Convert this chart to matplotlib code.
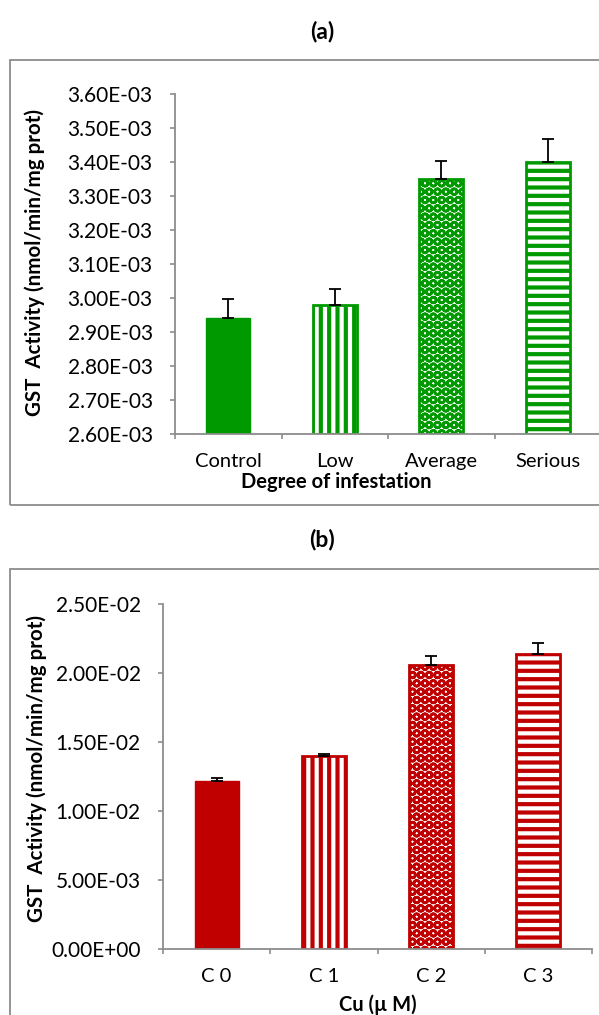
import numpy as np
import matplotlib
matplotlib.use("Agg")
import matplotlib.pyplot as plt
from matplotlib.patches import Rectangle

plt.rcParams['font.family'] = ['Lato', 'DejaVu Sans']
plt.rcParams['hatch.linewidth'] = 3.0

# panel (a): degree of infestation
cats_a = ['Control', 'Low', 'Average', 'Serious']
vals_a = [2.94e-3, 2.98e-3, 3.35e-3, 3.40e-3]
err_a = [0.056e-3, 0.046e-3, 0.053e-3, 0.067e-3]

# panel (b): copper concentration
cats_b = ['C 0', 'C 1', 'C 2', 'C 3']
vals_b = [1.22e-2, 1.40e-2, 2.06e-2, 2.14e-2]
err_b = [0.0002, 0.00012, 0.0006, 0.0008]

hatches = [None, '||', 'OO', '--']
hatch_lw = [0, 3.0, 1.9, 3.0]
green = '#009a00'
red = '#c00000'
grey = '#8c8c8c'

W, H = 599, 1015
fig = plt.figure(figsize=(W / 100, H / 100), dpi=100)


def fx(px):
    return px / W


def fy(py):
    return 1 - py / H


def panel(rect, cats, vals, errs, color, ylim, yticks, xlabel, title, title_y, xlab_pos, ylab_pos):
    ax = fig.add_axes(rect)
    x = np.arange(len(cats))
    for i in range(len(cats)):
        if hatches[i] is None:
            ax.bar(x[i], vals[i] - ylim[0], bottom=ylim[0], width=0.41, color=color,
                   edgecolor=color, linewidth=1.0, zorder=2)
        else:
            with plt.rc_context({'hatch.linewidth': hatch_lw[i]}):
                bars = ax.bar(x[i], vals[i] - ylim[0], bottom=ylim[0], width=0.41, facecolor='white',
                              edgecolor=color, hatch=hatches[i], linewidth=2.0, zorder=2)
            for b in bars:
                if hasattr(b, 'set_hatch_linewidth'):
                    b.set_hatch_linewidth(hatch_lw[i])
    ax.errorbar(x, vals, yerr=[np.zeros(len(errs)), errs], fmt='none', ecolor='black',
                elinewidth=1.3, capsize=4.5, capthick=1.3, zorder=3)
    ax.set_xlim(-0.5, len(cats) - 0.5)
    ax.set_ylim(*ylim)
    ax.set_yticks(yticks)
    ax.set_yticklabels(['{:.2E}'.format(v) for v in yticks])
    ax.set_xticks(x)
    ax.set_xticklabels(cats)
    ax.set_xticks(np.arange(len(cats) + 1) - 0.5, minor=True)
    ax.tick_params(axis='x', which='major', length=0, labelsize=14.5, pad=14)
    ax.tick_params(axis='x', which='minor', length=3.6, width=1.2, color=grey, direction='out')
    ax.tick_params(axis='y', length=3.6, width=1.2, color=grey, labelsize=15, pad=12.5)
    for s in ['top', 'right']:
        ax.spines[s].set_visible(False)
    for s in ['left', 'bottom']:
        ax.spines[s].set_color(grey)
        ax.spines[s].set_linewidth(1.3)
    fig.text(fx(xlab_pos[0]), fy(xlab_pos[1]), xlabel, ha='center', va='center',
             fontsize=14.5, fontweight='bold')
    fig.text(fx(ylab_pos[0]), fy(ylab_pos[1]), 'GST  Activity (nmol/min/mg prot)', ha='center',
             va='center', rotation=90, fontsize=14.8, fontweight='bold')
    fig.text(fx(322), fy(title_y), title, ha='center', va='center', fontsize=16.5, fontweight='bold')
    return ax


# outer frames
fig.patches.append(Rectangle((fx(10), fy(505)), fx(700), fy(60) - fy(505), transform=fig.transFigure,
                             fill=False, edgecolor=grey, linewidth=1.3))
fig.patches.append(Rectangle((fx(10), fy(1100)), fx(700), fy(569) - fy(1100), transform=fig.transFigure,
                             fill=False, edgecolor=grey, linewidth=1.3))

panel([fx(175), fy(434), fx(601) - fx(175), fy(94) - fy(434)], cats_a, vals_a, err_a, green,
      (2.6e-3, 3.6e-3), np.arange(2.6e-3, 3.61e-3, 0.1e-3), 'Degree of infestation', '(a)', 31,
      (336, 482), (35, 262))

panel([fx(163), fy(949), fx(592) - fx(163), fy(604) - fy(949)], cats_b, vals_b, err_b, red,
      (0, 0.025), np.arange(0, 0.0251, 0.005), 'Cu (\u00b5 M)', '(b)', 540,
      (378, 1005), (37, 769))

fig.savefig('out.png', dpi=100)
